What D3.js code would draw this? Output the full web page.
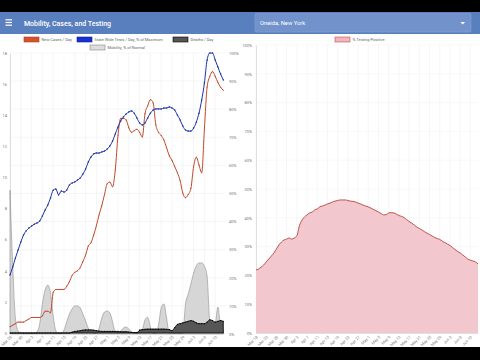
<!DOCTYPE html>
<html><head><meta charset="utf-8">
<script src="https://cdnjs.cloudflare.com/ajax/libs/d3/7.8.5/d3.min.js"></script>
<style>
html,body{margin:0;padding:0;background:#000;}
svg{display:block;font-family:Roboto,"Noto Sans",sans-serif;}
</style></head><body>
<svg id="c" width="480" height="360"></svg>
<script>
// ---------- data ----------
const leftStart = "2020-03-26";
const rightStart = "2020-03-18";
const tickEveryDays = 4;
const seriesNames = ["New Cases / Day", "State Wide Tests / Day, % of Maximum", "Deaths / Day", "Mobility, % of Normal"];
const rightSeriesName = "% Testing Positive";
const leftYTicks = [0, 2, 4, 6, 8, 10, 12, 14, 16, 18];
const pctTicks = [0, 10, 20, 30, 40, 50, 60, 70, 80, 90, 100];

const newCases = [0.4,0.5,0.6,0.7,0.7,0.7,0.8,0.9,1.0,1.0,1.0,1.0,1.1,1.4,1.4,1.3,2.6,2.8,2.8,2.8,
  2.8,3.0,3.3,3.7,3.9,4.0,4.2,4.6,5.0,5.6,5.8,6.3,6.9,7.6,8.2,8.9,9.6,9.7,9.4,10.5,
  12.7,13.8,13.8,13.7,13.2,12.9,13.0,13.1,12.9,12.6,14.1,14.6,15.0,14.8,13.4,12.9,12.7,12.4,11.9,11.4,
  11.1,10.7,10.3,9.8,9.0,8.7,8.9,9.3,10.7,11.3,10.8,10.3,13.1,15.8,16.5,16.8,16.5,16.1,15.8,15.6];
const stateTests = [21.0,23.8,27.0,29.9,32.7,35.2,36.7,37.7,38.4,39.1,39.5,40.2,42.0,44.1,45.9,48.4,51.2,51.6,49.5,50.9,
  50.5,51.2,53.0,53.7,54.1,54.8,55.5,56.9,58.7,61.2,63.0,64.1,64.4,64.4,64.8,65.1,65.8,66.9,68.7,71.2,
  73.7,75.8,77.2,78.3,79.0,79.4,78.6,76.9,75.1,74.4,75.1,76.9,78.6,79.7,80.1,80.1,80.1,80.4,80.4,80.8,
  80.4,79.7,77.9,76.2,74.0,72.6,72.2,72.2,73.3,75.4,78.6,83.3,89.3,97.5,100,100,97.5,95.0,92.5,90.4];
const deaths = [0,0,0,0,0,0,0,0,0,0,0,0,0,0,0,0,0,0,0,0,
  0,0,0,0.05,0.1,0.12,0.15,0.18,0.2,0.2,0.2,0.18,0.15,0.12,0.1,0.1,0.1,0.1,0.1,0.1,
  0.1,0.08,0.08,0.08,0.06,0.04,0.03,0.03,0.18,0.22,0.24,0.25,0.25,0.25,0.25,0.25,0.25,0.25,0.24,0.22,
  0.15,0.35,0.55,0.6,0.65,0.7,0.75,0.8,0.75,0.65,0.6,0.6,0.6,0.7,0.85,0.8,0.7,0.75,0.8,0.75];
const mobility = [51.2,24.6,5.7,1.1,0.4,0.3,0.3,0.3,0.3,0.3,0.7,3.6,10.7,15.7,17.4,14.6,6.4,1.1,0.3,0.3,
  1.4,4.3,7.1,8.9,10.0,10.0,9.3,7.1,4.6,2.1,0.7,0.3,0.3,2.1,5.7,7.8,8.2,7.5,4.3,0.7,
  0.3,1.1,2.1,2.5,1.8,0.7,0.3,0.3,0.3,1.4,5.0,6.0,2.5,0.3,0.3,3.2,9.3,10.7,5.7,0.3,
  0.3,0.3,0.3,0.3,0.3,10.7,14.2,17.8,21.7,24.2,25.3,25.3,24.2,20.6,4.3,1.1,3.2,9.6,2.8,1.4];
const positivity = [21.9,22.2,22.9,23.6,24.7,25.7,26.7,27.8,29.2,30.6,31.6,32.3,32.6,33.0,32.6,33.0,33.7,37.2,39.2,40.3,
  41.0,41.7,42.0,42.7,43.1,43.8,44.1,44.4,44.8,45.1,45.5,45.8,46.0,46.2,46.2,46.2,46.0,45.8,45.7,45.5,
  45.1,44.8,44.4,44.1,43.8,43.4,42.9,42.5,42.0,41.5,41.0,41.1,41.7,41.8,41.7,41.3,40.8,40.5,40.1,39.4,
  38.7,38.2,37.5,36.8,36.3,35.8,35.2,34.7,34.2,33.7,33.2,32.8,32.5,31.9,31.4,30.9,30.4,29.7,29.0,28.3,
  27.8,27.1,26.4,25.7,25.3,25.0,24.7,24.0];

// ---------- colours ----------
const C = {red:"#bf4a2c", blue:"#1d34a3", death:"#565656", mob:"#d6d6d6", pinkFill:"#f2c7cd", pinkLine:"#b4443c",
  header:"#5a7fbe", grid:"#ececec", tick:"#777"};

const svg = d3.select("#c");
const parse = d3.timeParse("%Y-%m-%d");
const fmt = d3.timeFormat("%b %-d");
const l0 = parse(leftStart), r0 = parse(rightStart);
const leftDates = newCases.map((_, i) => d3.timeDay.offset(l0, i));
const rightDates = positivity.map((_, i) => d3.timeDay.offset(r0, i));
const leftTicks = leftDates.filter((_, i) => i % tickEveryDays === 0);
const rightTicks = rightDates.filter((_, i) => i % tickEveryDays === 0);

// page frame
svg.append("rect").attr("x",0).attr("y",0).attr("width",480).attr("height",360).attr("fill","#000");
svg.append("rect").attr("x",0).attr("y",12).attr("width",480).attr("height",335).attr("fill","#fff");
// header
svg.append("rect").attr("x",0).attr("y",12).attr("width",480).attr("height",22).attr("fill",C.header);
[19.8,22.5,25.2].forEach(y=>svg.append("rect").attr("x",5.5).attr("y",y-0.6).attr("width",6.5).attr("height",1.2).attr("fill","#fff"));
svg.append("text").attr("x",24).attr("y",25.5).attr("fill","#fff").attr("font-size",7).attr("font-weight",500).text("Mobility, Cases, and Testing");
svg.append("rect").attr("x",255).attr("y",13.5).attr("width",216).attr("height",18.5).attr("rx",1).attr("fill","#7192cb").attr("stroke","#86a2d4").attr("stroke-width",0.6);
svg.append("text").attr("x",260).attr("y",25).attr("fill","#fff").attr("font-size",5.8).text("Oneida, New York");
svg.append("path").attr("d","M460.5,22 L465,22 L462.75,24.5 Z").attr("fill","#fff");

// ---------- left chart ----------
const x = d3.scaleTime().domain([leftDates[0], leftDates[leftDates.length-1]]).range([10, 223.3]);
const yL = d3.scaleLinear().domain([0,18]).range([333,53]);
const yR = d3.scaleLinear().domain([0,100]).range([334,53]);
const gL = svg.append("g");
// grids
gL.append("g").selectAll("line").data(pctTicks).join("line")
  .attr("x1",10).attr("x2",225).attr("y1",d=>yR(d)).attr("y2",d=>yR(d)).attr("stroke",C.grid).attr("stroke-width",0.5);
gL.append("g").selectAll("line").data(leftTicks).join("line")
  .attr("x1",d=>x(d)).attr("x2",d=>x(d)).attr("y1",53).attr("y2",333).attr("stroke",C.grid).attr("stroke-width",0.5);

function styleAxis(g){
  g.selectAll(".domain").attr("stroke","#ccc").attr("stroke-width",0.6);
  g.selectAll("text").attr("fill",C.tick).attr("font-size",4).attr("font-family","Roboto, sans-serif");
}
const axL = gL.append("g").attr("transform","translate(10,0)")
  .call(d3.axisLeft(yL).tickValues(leftYTicks).tickSize(0).tickPadding(3));
styleAxis(axL);
const axR = gL.append("g").attr("transform","translate(225,0)")
  .call(d3.axisRight(yR).tickValues(pctTicks).tickSize(0).tickPadding(4).tickFormat(d=>d+"%"));
styleAxis(axR); axR.select(".domain").attr("stroke","none");
const axB = gL.append("g").attr("transform","translate(0,333)")
  .call(d3.axisBottom(x).tickValues(leftTicks).tickSize(0).tickFormat(fmt));
styleAxis(axB); axB.select(".domain").attr("stroke","#000").attr("stroke-width",0.6);
axB.selectAll("text").attr("transform","rotate(-45)").attr("text-anchor","end").attr("x",-2).attr("y",3).attr("dy","0.3em");

// mobility area
gL.append("path").datum(mobility)
  .attr("d", d3.area().x((d,i)=>x(leftDates[i])).y0(yR(0)).y1(d=>yR(d)).curve(d3.curveMonotoneX))
  .attr("fill",C.mob).attr("stroke","#8e8e8e").attr("stroke-width",0.6);
// deaths area
gL.append("path").datum(deaths)
  .attr("d", d3.area().x((d,i)=>x(leftDates[i])).y0(yL(0)).y1(d=>yL(d)).curve(d3.curveMonotoneX))
  .attr("fill",C.death).attr("stroke","#000").attr("stroke-width",0.8);
gL.append("g").selectAll("circle").data(deaths).join("circle")
  .attr("cx",(d,i)=>x(leftDates[i])).attr("cy",d=>yL(d)).attr("r",0.6).attr("fill","#000");
// new cases line
gL.append("path").datum(newCases)
  .attr("d", d3.line().x((d,i)=>x(leftDates[i])).y(d=>yL(d)).curve(d3.curveMonotoneX))
  .attr("fill","none").attr("stroke",C.red).attr("stroke-width",1);
gL.append("g").selectAll("circle").data(newCases).join("circle")
  .attr("cx",(d,i)=>x(leftDates[i])).attr("cy",d=>yL(d)).attr("r",0.55).attr("fill",C.red);
// tests line
gL.append("path").datum(stateTests)
  .attr("d", d3.line().x((d,i)=>x(leftDates[i])).y(d=>yR(d)).curve(d3.curveMonotoneX))
  .attr("fill","none").attr("stroke",C.blue).attr("stroke-width",1);
gL.append("g").selectAll("circle").data(stateTests).join("circle")
  .attr("cx",(d,i)=>x(leftDates[i])).attr("cy",d=>yR(d)).attr("r",0.75).attr("fill",C.blue);

// legend left
const legItems = [
  {t:seriesNames[0], fill:"#d4532f", stroke:"#a8401f", x:24, y:37},
  {t:seriesNames[1], fill:"#1730d0", stroke:"#0f2290", x:77, y:37},
  {t:seriesNames[2], fill:"#555", stroke:"#000", x:173, y:37},
  {t:seriesNames[3], fill:"#ddd", stroke:"#888", x:90, y:45}
];
const lg = svg.append("g");
legItems.forEach(it=>{
  lg.append("rect").attr("x",it.x).attr("y",it.y).attr("width",15).attr("height",5).attr("fill",it.fill).attr("stroke",it.stroke).attr("stroke-width",0.6);
  lg.append("text").attr("x",it.x+17.5).attr("y",it.y+4).attr("font-size",4).attr("fill","#666").text(it.t);
});

// ---------- right chart ----------
const x2 = d3.scaleTime().domain([rightDates[0], rightDates[rightDates.length-1]]).range([256, 478]);
const y2 = d3.scaleLinear().domain([0,100]).range([333,45]);
const gR = svg.append("g");
gR.append("g").selectAll("line").data(rightTicks).join("line")
  .attr("x1",d=>x2(d)).attr("x2",d=>x2(d)).attr("y1",45).attr("y2",333).attr("stroke",C.grid).attr("stroke-width",0.5);
gR.append("g").selectAll("line").data(pctTicks).join("line")
  .attr("x1",256).attr("x2",478).attr("y1",d=>y2(d)).attr("y2",d=>y2(d)).attr("stroke","#f3f3f3").attr("stroke-width",0.5);
const ay2 = gR.append("g").attr("transform","translate(256,0)")
  .call(d3.axisLeft(y2).tickValues(pctTicks).tickSize(0).tickPadding(4).tickFormat(d=>d+"%"));
styleAxis(ay2);
const ax2 = gR.append("g").attr("transform","translate(0,333)")
  .call(d3.axisBottom(x2).tickValues(rightTicks).tickSize(0).tickFormat(fmt));
styleAxis(ax2); ax2.select(".domain").attr("stroke","#ccc");
ax2.selectAll("text").attr("transform","rotate(-45)").attr("text-anchor","end").attr("x",-2).attr("y",3).attr("dy","0.3em");
gR.append("path").datum(positivity)
  .attr("d", d3.area().x((d,i)=>x2(rightDates[i])).y0(y2(0)).y1(d=>y2(d)).curve(d3.curveMonotoneX))
  .attr("fill",C.pinkFill);
gR.append("path").datum(positivity)
  .attr("d", d3.line().x((d,i)=>x2(rightDates[i])).y(d=>y2(d)).curve(d3.curveMonotoneX))
  .attr("fill","none").attr("stroke",C.pinkLine).attr("stroke-width",0.9);
gR.append("rect").attr("x",335).attr("y",37).attr("width",15).attr("height",5).attr("fill","#f2b5bd").attr("stroke","#c0504d").attr("stroke-width",0.6);
gR.append("text").attr("x",352.5).attr("y",41).attr("font-size",4).attr("fill","#666").text(rightSeriesName);
</script>
</body></html>
